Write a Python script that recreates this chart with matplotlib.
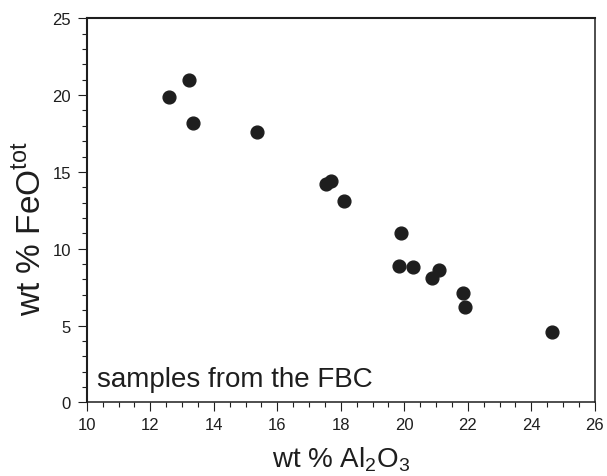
import numpy as np
import matplotlib
matplotlib.use('Agg')
import matplotlib.pyplot as plt
import matplotlib.ticker as ticker

plt.rcParams['font.family'] = ['Liberation Sans', 'DejaVu Sans']
plt.rcParams['mathtext.fontset'] = 'custom'
plt.rcParams['mathtext.rm'] = 'Liberation Sans'

# wt % Al2O3 vs wt % FeO(tot), samples from the FBC
al2o3 = [12.58, 13.21, 13.33, 15.36, 17.52, 17.69, 18.10, 19.88, 19.82,
         20.26, 20.88, 21.10, 21.85, 21.90, 24.64]
feo_tot = [19.9, 21.0, 18.2, 17.6, 14.2, 14.4, 13.1, 11.0, 8.9,
           8.8, 8.1, 8.6, 7.1, 6.2, 4.6]

ink = '#1e1e1e'

fig = plt.figure(figsize=(6.07, 4.77), dpi=100)
ax = fig.add_axes([0.143, 0.1545, 0.837, 0.805])

ax.plot(al2o3, feo_tot, ls='none', marker='o', ms=9.2, mfc=ink, mec=ink)

ax.set_xlim(10, 26)
ax.set_ylim(0, 25)
ax.xaxis.set_major_locator(ticker.MultipleLocator(2))
ax.xaxis.set_minor_locator(ticker.MultipleLocator(0.5))
ax.yaxis.set_major_locator(ticker.MultipleLocator(5))
ax.yaxis.set_minor_locator(ticker.MultipleLocator(1))

ax.tick_params(which='both', direction='out', colors=ink, width=0.8,
               top=False, right=False, labelsize=12)
ax.tick_params(which='major', length=6.5)
ax.tick_params(which='minor', length=3.5)
ax.tick_params(axis='y', pad=5)
ax.tick_params(axis='x', pad=4)

for side in ['left', 'top']:
    ax.spines[side].set_linewidth(1.5)
for side in ['right', 'bottom']:
    ax.spines[side].set_linewidth(1.1)
for sp in ax.spines.values():
    sp.set_color(ink)

ax.set_xlabel('wt % Al$_2$O$_3$', fontsize=20, color=ink, labelpad=9)
ax.set_ylabel('wt % FeO$^{\\mathrm{tot}}$', fontsize=24, color=ink)
ax.yaxis.set_label_coords(-0.078, 0.455)

ax.text(0.02, 0.043, 'samples from the FBC', transform=ax.transAxes,
        fontsize=20, color=ink, ha='left', va='baseline')

fig.savefig('out.png', dpi=100)
